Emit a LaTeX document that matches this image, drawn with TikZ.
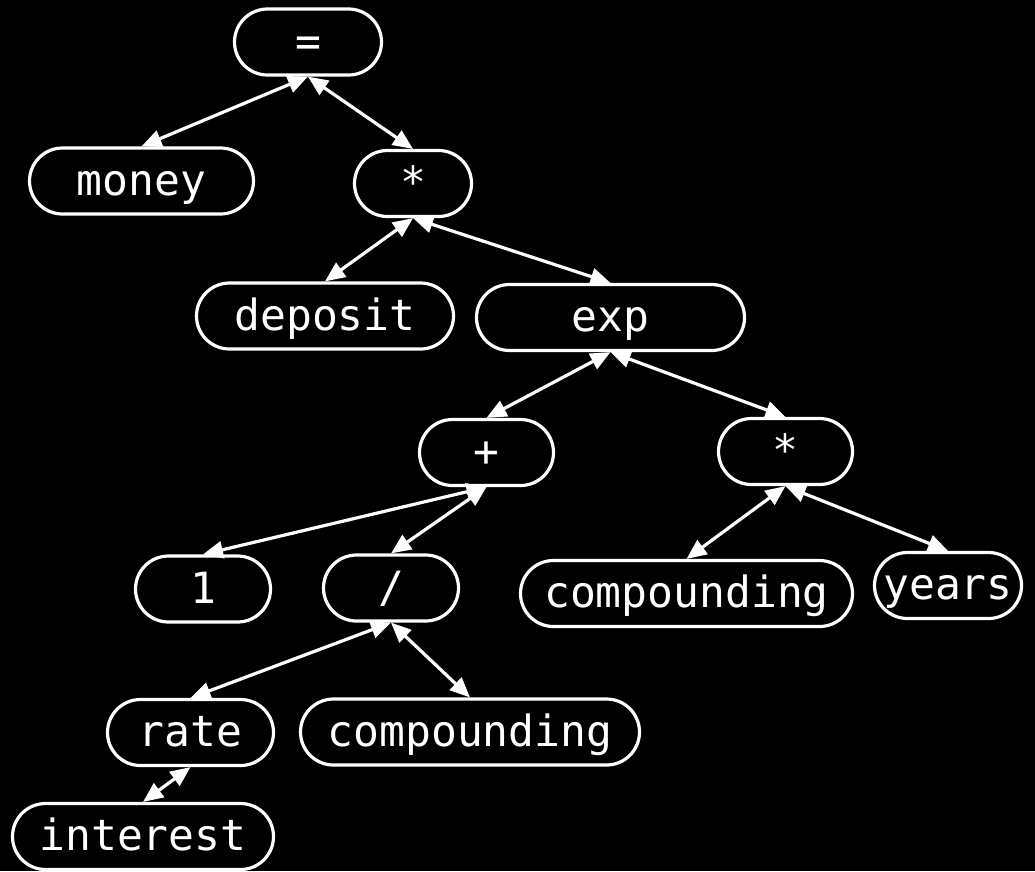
\documentclass[tikz,border=0pt]{standalone}
\usepackage{fontspec}
\setmonofont{DejaVu Sans Mono}
\usetikzlibrary{arrows.meta}

\tikzset{
  term/.style={draw=white, line width=3.2pt, rectangle, rounded corners=33pt,
    minimum height=66pt, inner xsep=0pt, inner ysep=0pt,
    text=white, font=\ttfamily\fontsize{43pt}{43pt}\selectfont,
    text height=32pt, text depth=4pt},
  link/.style={draw=white, line width=3.2pt,
    {Triangle[length=20pt,width=17pt]}-{Triangle[length=20pt,width=17pt]}},
}

\begin{document}
\begin{tikzpicture}[x=1pt, y=-1pt]
  \fill[black] (0,0) rectangle (1035,871);
  \useasboundingbox (0,0) rectangle (1035,871);

  % expression tree nodes
  \node[term, minimum width=147pt] (eq)       at (308,42)      {=};
  \node[term, minimum width=224pt] (money)    at (141.5,181)   {money};
  \node[term, minimum width=117pt] (mulA)     at (413,183.5)   {*};
  \node[term, minimum width=257pt] (deposit)  at (325,316)     {deposit};
  \node[term, minimum width=268pt] (exp)      at (610.5,317.5) {exp};
  \node[term, minimum width=134pt] (plus)     at (486.5,452.5) {+};
  \node[term, minimum width=134pt] (mulB)     at (785.5,451.5) {*};
  \node[term, minimum width=135pt] (one)      at (203,589)     {1};
  \node[term, minimum width=135pt] (div)      at (391,588)     {/};
  \node[term, minimum width=332pt] (compA)    at (686.5,593.5) {compounding};
  \node[term, minimum width=147pt] (years)    at (948,585.5)   {years};
  \node[term, minimum width=166pt] (rate)     at (190.5,732.5) {rate};
  \node[term, minimum width=339pt] (compB)    at (470,732)     {compounding};
  \node[term, minimum width=261pt] (interest) at (143,836.5)   {interest};

  % parent-child links
  \draw[link] (eq.south)   -- (money.north);
  \draw[link] (eq.south)   -- (mulA.north);
  \draw[link] (mulA.south) -- (deposit.north);
  \draw[link] (mulA.south) -- (exp.north);
  \draw[link] (exp.south)  -- (plus.north);
  \draw[link] (exp.south)  -- (mulB.north);
  \draw[link] (plus.south) -- (one.north);
  \draw[link] (plus.south) -- (div.north);
  \draw[link] (mulB.south) -- (compA.north);
  \draw[link] (mulB.south) -- (years.north);
  \draw[link] (div.south)  -- (rate.north);
  \draw[link] (div.south)  -- (compB.north);
  \draw[link] (rate.south) -- (interest.north);
\end{tikzpicture}
\end{document}
